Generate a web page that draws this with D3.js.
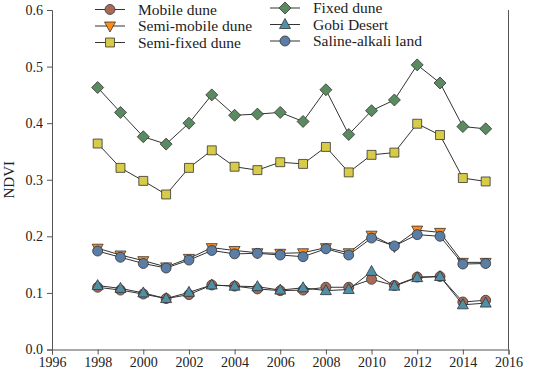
<!DOCTYPE html>
<html>
<head>
<meta charset="utf-8">
<script src="https://d3js.org/d3.v7.min.js"></script>
<style>
  body { margin: 0; background: #fff; }
  svg { font-family: "Liberation Serif", "Times New Roman", serif; }
  .axis path, .axis line { stroke: #555; }
  .axis text { fill: #222; font-size: 14px; font-family: "Liberation Serif", serif; }
</style>
</head>
<body>
<svg width="540" height="374"></svg>
<script>
var years = [1998,1999,2000,2001,2002,2003,2004,2005,2006,2007,2008,2009,2010,2011,2012,2013,2014,2015];

var mobileDune    = [0.110,0.105,0.098,0.090,0.097,0.114,0.112,0.107,0.104,0.105,0.110,0.110,0.124,0.113,0.128,0.129,0.084,0.087];
var semiMobile    = [0.179,0.167,0.157,0.146,0.161,0.180,0.175,0.171,0.170,0.171,0.180,0.171,0.202,0.182,0.211,0.207,0.154,0.154];
var semiFixed     = [0.364,0.321,0.298,0.274,0.321,0.352,0.323,0.317,0.331,0.328,0.358,0.313,0.344,0.348,0.399,0.379,0.303,0.297];
var fixedDune     = [0.463,0.419,0.376,0.363,0.400,0.450,0.414,0.416,0.419,0.403,0.459,0.380,0.422,0.441,0.503,0.471,0.394,0.390];
var gobiDesert    = [0.113,0.108,0.100,0.090,0.101,0.114,0.112,0.111,0.105,0.109,0.104,0.106,0.138,0.112,0.127,0.129,0.079,0.082];
var salineAlkali  = [0.174,0.163,0.152,0.144,0.158,0.175,0.169,0.170,0.167,0.164,0.178,0.167,0.197,0.183,0.203,0.200,0.151,0.152];

var xTicks = [1996,1998,2000,2002,2004,2006,2008,2010,2012,2014,2016];
var yTicks = [0.0,0.1,0.2,0.3,0.4,0.5,0.6];

var series = [
  {name: "Mobile dune",        values: mobileDune,   symbol: "circle",   color: "#a86a55"},
  {name: "Semi-mobile dune",   values: semiMobile,   symbol: "triDown",  color: "#ff8c1a"},
  {name: "Semi-fixed dune",    values: semiFixed,    symbol: "square",   color: "#d8cb47"},
  {name: "Fixed dune",         values: fixedDune,    symbol: "diamond",  color: "#5a8a5f"},
  {name: "Gobi Desert",        values: gobiDesert,   symbol: "triUp",    color: "#4f8fa8"},
  {name: "Saline-alkali land", values: salineAlkali, symbol: "circle",   color: "#5b7ea6"}
];

var svg = d3.select("svg");
var pLeft = 52, pRight = 508.5, pTop = 10, pBottom = 349.5;

var x = d3.scaleLinear().domain([1996, 2016]).range([pLeft, pRight]);
var y = d3.scaleLinear().domain([0, 0.6]).range([pBottom, pTop]);

// axes
svg.append("g").attr("class", "axis")
  .attr("transform", "translate(0," + pBottom + ")")
  .call(d3.axisBottom(x).tickValues(xTicks).tickFormat(d3.format("d")).tickSizeOuter(0).tickSize(5).tickPadding(3));

svg.append("g").attr("class", "axis")
  .attr("transform", "translate(" + pLeft + ",0)")
  .call(d3.axisLeft(y).tickValues(yTicks).tickFormat(d3.format(".1f")).tickSizeOuter(0).tickSize(5).tickPadding(4));

// right frame line
svg.append("line")
  .attr("x1", pRight).attr("x2", pRight)
  .attr("y1", pTop).attr("y2", pBottom)
  .attr("stroke", "#555");

svg.append("text")
  .attr("transform", "translate(9," + ((pTop + pBottom) / 2) + ") rotate(-90)")
  .attr("text-anchor", "middle")
  .attr("dy", "0.35em")
  .attr("font-size", 15)
  .attr("fill", "#222")
  .text("NDVI");

function symbolPath(kind) {
  if (kind === "circle") return d3.symbol(d3.symbolCircle, 78)();
  if (kind === "square") return d3.symbol(d3.symbolSquare, 80)();
  if (kind === "diamond") return "M0,-6L6,0L0,6L-6,0Z";
  if (kind === "triUp") return "M0,-6L5.5,4L-5.5,4Z";
  if (kind === "triDown") return "M0,6L5.5,-4L-5.5,-4Z";
}

var line = d3.line()
  .x(function (d) { return x(d.year); })
  .y(function (d) { return y(d.value); });

series.forEach(function (s) {
  var pts = years.map(function (yr, i) { return {year: yr, value: s.values[i]}; });
  svg.append("path")
    .datum(pts)
    .attr("d", line)
    .attr("fill", "none")
    .attr("stroke", "#333")
    .attr("stroke-width", 1);
  svg.selectAll(null).data(pts).enter()
    .append("path")
    .attr("d", symbolPath(s.symbol))
    .attr("transform", function (d) { return "translate(" + x(d.year) + "," + y(d.value) + ")"; })
    .attr("fill", s.color)
    .attr("stroke", "#333")
    .attr("stroke-width", 0.8);
});

// legend
var legend = svg.append("g");
series.forEach(function (s, i) {
  var col = Math.floor(i / 3), row = i % 3;
  var mx = col === 0 ? 110 : 285;
  var my = (col === 0 ? 9.5 : 8) + row * 16.5;
  var g = legend.append("g").attr("transform", "translate(" + mx + "," + my + ")");
  g.append("line").attr("x1", -15).attr("x2", 15).attr("stroke", "#333");
  g.append("path").attr("d", symbolPath(s.symbol)).attr("fill", s.color).attr("stroke", "#333").attr("stroke-width", 0.8);
  g.append("text").attr("x", 28).attr("dy", "0.35em")
    .attr("font-size", 15.5).attr("fill", "#222").text(s.name);
});
</script>
</body>
</html>
